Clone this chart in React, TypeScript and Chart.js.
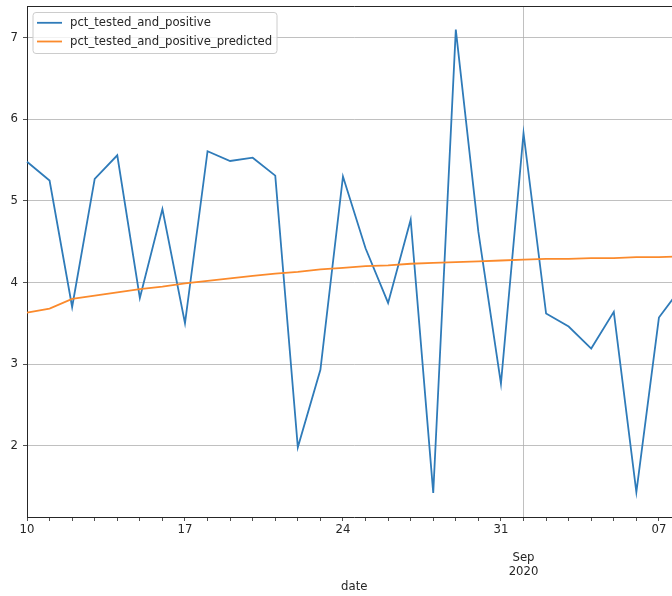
import { useEffect, useRef } from 'react';
import { Chart, registerables } from 'chart.js';

Chart.register(...registerables);

const dates = [
  '2020-08-10', '2020-08-11', '2020-08-12', '2020-08-13', '2020-08-14', '2020-08-15', '2020-08-16',
  '2020-08-17', '2020-08-18', '2020-08-19', '2020-08-20', '2020-08-21', '2020-08-22', '2020-08-23',
  '2020-08-24', '2020-08-25', '2020-08-26', '2020-08-27', '2020-08-28', '2020-08-29', '2020-08-30',
  '2020-08-31', '2020-09-01', '2020-09-02', '2020-09-03', '2020-09-04', '2020-09-05', '2020-09-06',
  '2020-09-07', '2020-09-08',
];

const pctTestedAndPositive = [
  5.48, 5.25, 3.70, 5.27, 5.56, 3.81, 4.90,
  3.50, 5.61, 5.49, 5.53, 5.31, 1.98, 2.93,
  5.30, 4.42, 3.75, 4.77, 1.42, 7.10, 4.62,
  2.76, 5.83, 3.62, 3.46, 3.19, 3.64, 1.43,
  3.57, 3.94,
];

const pctTestedAndPositivePredicted = [
  3.63, 3.68, 3.80, 3.84, 3.88, 3.92, 3.95,
  3.99, 4.02, 4.05, 4.08, 4.11, 4.13, 4.16,
  4.18, 4.20, 4.21, 4.23, 4.24, 4.25, 4.26,
  4.27, 4.28, 4.29, 4.29, 4.30, 4.30, 4.31,
  4.31, 4.32,
];

const seriesNames = ['pct_tested_and_positive', 'pct_tested_and_positive_predicted'];
const seriesColors = ['#2f7bb9', '#fb8a2c'];
const yTicks = [2, 3, 4, 5, 6, 7];
const monthNames = ['Jan', 'Feb', 'Mar', 'Apr', 'May', 'Jun', 'Jul', 'Aug', 'Sep', 'Oct', 'Nov', 'Dec'];
const xTitle = 'date';

const FONT = '"DejaVu Sans", sans-serif';
const FS = 11.7;
const TEXT = '#262626';

const framePlugin = {
  id: 'frameAndLegend',
  afterDraw(chart: any) {
    const { ctx, chartArea } = chart;
    ctx.save();
    // top and right spines
    ctx.strokeStyle = TEXT;
    ctx.lineWidth = 1;
    ctx.beginPath();
    ctx.moveTo(chartArea.left, chartArea.top + 0.5);
    ctx.lineTo(chartArea.right, chartArea.top + 0.5);
    ctx.moveTo(chartArea.right - 0.5, chartArea.top);
    ctx.lineTo(chartArea.right - 0.5, chartArea.bottom);
    ctx.stroke();

    // legend box
    const bx = chartArea.left + 6;
    const by = chartArea.top + 6.5;
    const bw = 244;
    const bh = 41;
    const r = 3;
    ctx.beginPath();
    ctx.moveTo(bx + r, by);
    ctx.lineTo(bx + bw - r, by);
    ctx.quadraticCurveTo(bx + bw, by, bx + bw, by + r);
    ctx.lineTo(bx + bw, by + bh - r);
    ctx.quadraticCurveTo(bx + bw, by + bh, bx + bw - r, by + bh);
    ctx.lineTo(bx + r, by + bh);
    ctx.quadraticCurveTo(bx, by + bh, bx, by + bh - r);
    ctx.lineTo(bx, by + r);
    ctx.quadraticCurveTo(bx, by, bx + r, by);
    ctx.closePath();
    ctx.fillStyle = 'rgba(255,255,255,0.8)';
    ctx.fill();
    ctx.strokeStyle = '#cccccc';
    ctx.lineWidth = 1;
    ctx.stroke();

    ctx.font = `${FS}px ${FONT}`;
    ctx.textBaseline = 'middle';
    ctx.textAlign = 'left';
    chart.data.datasets.forEach((ds: any, i: number) => {
      const y = by + 10.3 + i * 18.7;
      ctx.strokeStyle = ds.borderColor;
      ctx.lineWidth = 1.8;
      ctx.beginPath();
      ctx.moveTo(bx + 4, y);
      ctx.lineTo(bx + 29, y);
      ctx.stroke();
      ctx.fillStyle = TEXT;
      ctx.fillText(ds.label, bx + 37, y);
    });
    ctx.restore();
  },
};

export default function App() {
  const canvasRef = useRef<HTMLCanvasElement | null>(null);

  useEffect(() => {
    const canvas = canvasRef.current;
    if (!canvas) return;
    const chart = new Chart(canvas, {
      type: 'line',
      data: {
        labels: dates,
        datasets: [
          {
            label: seriesNames[0],
            data: pctTestedAndPositive,
            borderColor: seriesColors[0],
            backgroundColor: seriesColors[0],
            borderWidth: 1.8,
            pointRadius: 0,
            tension: 0,
            order: 1,
          },
          {
            label: seriesNames[1],
            data: pctTestedAndPositivePredicted,
            borderColor: seriesColors[1],
            backgroundColor: seriesColors[1],
            borderWidth: 1.8,
            pointRadius: 0,
            tension: 0,
            order: 0,
          },
        ],
      },
      options: {
        responsive: false,
        animation: false,
        devicePixelRatio: 1,
        layout: { padding: { top: 6, right: 18.5, left: 0, bottom: 0 } },
        plugins: {
          legend: { display: false },
          tooltip: { enabled: false },
        },
        scales: {
          x: {
            type: 'category',
            offset: false,
            afterFit: (s: any) => { s.height = 79; },
            grid: {
              offset: false,
              color: (c: any) => (dates[c.index] && dates[c.index].slice(8) === '01' ? '#b0b0b0' : 'rgba(0,0,0,0)'),
              lineWidth: 0.8,
              drawTicks: true,
              tickLength: 4,
              tickColor: TEXT,
              tickWidth: 0.8,
            },
            border: { display: true, color: TEXT, width: 1 },
            ticks: {
              autoSkip: false,
              maxRotation: 0,
              minRotation: 0,
              padding: 1.5,
              color: TEXT,
              font: { family: FONT, size: FS, lineHeight: '14px' },
              callback: (_v: any, index: number) => {
                const d = dates[index];
                if (!d) return '';
                const day = d.slice(8);
                const dt = new Date(d + 'T00:00:00Z');
                if (day === '01') return ['', '', monthNames[dt.getUTCMonth()], d.slice(0, 4)];
                if (dt.getUTCDay() === 1) return day;
                return '';
              },
            },
            title: {
              display: true,
              text: xTitle,
              color: TEXT,
              font: { family: FONT, size: FS, lineHeight: '14px' },
              padding: { top: 0, bottom: 2 },
            },
          },
          y: {
            type: 'linear',
            position: 'left',
            min: 1.125,
            max: 7.39,
            afterFit: (s: any) => {
              s.width = 27;
              s.paddingTop = 0;
              s.paddingBottom = 0;
            },
            afterBuildTicks: (s: any) => { s.ticks = yTicks.map((v) => ({ value: v })); },
            grid: {
              color: '#b0b0b0',
              lineWidth: 0.8,
              drawTicks: true,
              tickLength: 4,
              tickColor: TEXT,
              tickWidth: 0.8,
            },
            border: { display: true, color: TEXT, width: 1 },
            ticks: {
              padding: 5,
              color: TEXT,
              font: { family: FONT, size: FS, lineHeight: '12px' },
              callback: (v: any) => String(v),
            },
          },
        },
      },
      plugins: [framePlugin],
    } as any);
    return () => chart.destroy();
  }, []);

  return (
    <div style={{ position: 'absolute', left: 0, top: 0, width: 672, height: 596, overflow: 'hidden', background: '#fff' }}>
      <canvas ref={canvasRef} width={700} height={596} style={{ display: 'block', width: 700, height: 596 }} />
    </div>
  );
}
